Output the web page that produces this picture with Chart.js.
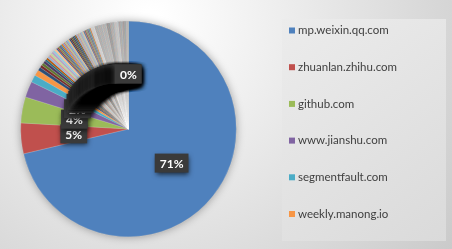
<!DOCTYPE html>
<html>
<head>
<meta charset="utf-8">
<script src="https://cdn.jsdelivr.net/npm/chart.js@4/dist/chart.umd.min.js"></script>
<style>
  html, body { margin: 0; padding: 0; }
  #wrap { width: 452px; height: 249px; position: relative; }
</style>
</head>
<body>
<div id="wrap"><canvas id="myChart"></canvas></div>
<script>
// named sites (these are the ones shown in the legend)
const categories = ["mp.weixin.qq.com", "zhuanlan.zhihu.com", "github.com", "www.jianshu.com", "segmentfault.com", "weekly.manong.io"];
const values = [713, 46, 39, 24, 11, 9];

// long tail of small sources
const otherValues = [5, 4, 4, 4, 3, 3, 3, 3, 3, 3, 3, 3,
  2, 2, 2, 2, 2, 2, 2, 2, 2, 2, 2, 2, 2, 2, 2,
  2, 2, 2, 2, 2, 2, 2, 2, 2, 2, 2, 2, 2, 2, 2,
  1, 1, 1, 1, 1, 1, 1, 1, 1, 1, 1, 1, 1, 1, 1, 1, 1, 1, 1,
  1, 1, 1, 1, 1, 1, 1, 1, 1, 1, 1, 1, 1, 1, 1, 1, 1, 1, 1,
  1, 1, 1, 1, 1, 1, 1, 1, 1, 1, 1, 1, 1, 1, 1, 1, 1, 1, 1];
const otherLabels = otherValues.map((v, i) => "other " + (i + 1));

const allLabels = categories.concat(otherLabels);
const allValues = values.concat(otherValues);

// office 2010 style palette, later points get darker / lighter / greyer variants
const baseColors = ["#4F81BD", "#C0504D", "#9BBB59", "#8064A2", "#4BACC6", "#F79646"];
const lumVariants = [[1, 0], [0.6, 0], [0.6, 0.4], [0.75, 0], [0.8, 0.2], [0.5, 0], [0.7, 0.3], [0.85, 0], [0.5, 0.5],
  [0.65, 0.2], [0.9, 0.1], [0.55, 0.3], [0.8, 0], [0.6, 0.25], [0.45, 0.45], [0.7, 0.15], [0.9, 0], [0.5, 0.35]];

function hexToHsl(hex) {
  let r = parseInt(hex.substr(1, 2), 16) / 255, g = parseInt(hex.substr(3, 2), 16) / 255, b = parseInt(hex.substr(5, 2), 16) / 255;
  const max = Math.max(r, g, b), min = Math.min(r, g, b);
  let h = 0, s = 0, l = (max + min) / 2;
  if (max != min) {
    const d = max - min;
    s = l > 0.5 ? d / (2 - max - min) : d / (max + min);
    if (max == r) h = (g - b) / d + (g < b ? 6 : 0);
    else if (max == g) h = (b - r) / d + 2;
    else h = (r - g) / d + 4;
    h *= 60;
  }
  return [h, s * 100, l * 100];
}

const sliceColors = allValues.map((v, i) => {
  const hsl = hexToHsl(baseColors[i % 6]);
  const k = Math.floor(i / 6);
  const lv = lumVariants[k % lumVariants.length];
  const l = Math.min(100, hsl[2] * lv[0] + lv[1] * 100);
  const s = k >= 9 ? hsl[1] * 0.25 : (k >= 6 ? hsl[1] * 0.6 : hsl[1]);
  return `hsl(${hsl[0].toFixed(1)}, ${s.toFixed(1)}%, ${l.toFixed(1)}%)`;
});

const bgPlugin = {
  id: "bg",
  beforeDraw(chart) {
    const c = chart.ctx;
    c.save();
    const g = c.createRadialGradient(150, 20, 10, 150, 20, 470);
    g.addColorStop(0, "#ffffff");
    g.addColorStop(1, "#bdbdbd");
    c.fillStyle = g;
    c.fillRect(0, 0, chart.width, chart.height);
    // legend panel
    const lg = c.createLinearGradient(282, 19, 446, 241);
    lg.addColorStop(0, "#ececec");
    lg.addColorStop(1, "#dadada");
    c.fillStyle = lg;
    c.fillRect(282, 19, 164, 222);
    c.restore();
  },
  beforeDatasetsDraw(chart) {
    const arc = chart.getDatasetMeta(0).data[0];
    if (!arc) return;
    const c = chart.ctx;
    c.save();
    c.shadowColor = "rgba(0,0,0,0.35)";
    c.shadowBlur = 8;
    c.fillStyle = "#999";
    c.beginPath();
    c.arc(arc.x, arc.y, arc.outerRadius, 0, Math.PI * 2);
    c.fill();
    c.restore();
  }
};

// excel style data labels: dark boxes at the middle of each slice
const labelPlugin = {
  id: "boxLabels",
  afterDatasetsDraw(chart) {
    const c = chart.ctx;
    const meta = chart.getDatasetMeta(0);
    const total = allValues.reduce((a, b) => a + b, 0);
    c.save();
    c.font = "bold 12px Lato";
    c.textAlign = "center";
    c.textBaseline = "middle";
    meta.data.forEach((arc, i) => {
      const p = arc.getProps(["x", "y", "startAngle", "endAngle", "outerRadius"]);
      const mid = (p.startAngle + p.endAngle) / 2;
      const r = p.outerRadius * 0.51;
      const x = p.x + Math.cos(mid) * r;
      const y = p.y + Math.sin(mid) * r;
      const txt = Math.round(allValues[i] / total * 100) + "%";
      const w = c.measureText(txt).width + 10;
      const h = 19;
      c.shadowColor = "rgba(0,0,0,0.7)";
      c.shadowBlur = 5;
      c.shadowOffsetX = 1;
      c.shadowOffsetY = 2;
      c.fillStyle = "#3a3a3a";
      c.fillRect(x - w / 2, y - h / 2, w, h);
      c.shadowColor = "transparent";
      c.fillStyle = "#ffffff";
      c.fillText(txt, x, y + 1);
    });
    c.restore();
  }
};

// legend drawn for the first six sites only
const legendPlugin = {
  id: "sideLegend",
  afterDraw(chart) {
    const c = chart.ctx;
    const ds = chart.data.datasets[0];
    c.save();
    c.font = "11.5px Lato";
    c.textBaseline = "middle";
    for (let i = 0; i < 6; i++) {
      const y = 30.5 + i * 36.7;
      c.fillStyle = ds.backgroundColor[i];
      c.fillRect(289, y - 3, 6, 6);
      c.fillStyle = "#404040";
      c.fillText(chart.data.labels[i], 298, y);
    }
    c.restore();
  }
};

const ctx = document.getElementById("myChart");
new Chart(ctx, {
  type: "pie",
  data: {
    labels: allLabels,
    datasets: [{
      data: allValues,
      backgroundColor: sliceColors,
      borderColor: "rgba(255,255,255,0.3)",
      borderWidth: 0.5
    }]
  },
  options: {
    responsive: true,
    maintainAspectRatio: false,
    animation: false,
    layout: { padding: { left: 20, right: 215, top: 21, bottom: 12 } },
    plugins: {
      legend: { display: false },
      tooltip: { enabled: false }
    }
  },
  plugins: [bgPlugin, labelPlugin, legendPlugin]
});
</script>
</body>
</html>
